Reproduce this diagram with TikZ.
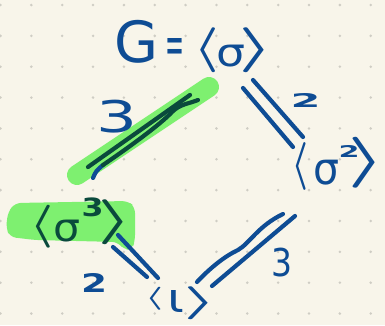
\documentclass[tikz,border=0pt]{standalone}
\usepackage{fontspec}
\setmainfont{DejaVu Sans}
\usetikzlibrary{calc}
\definecolor{paper}{HTML}{F8F5EA}
\definecolor{dotc}{HTML}{CFCDC4}
\definecolor{ink}{HTML}{0E4C94}
\definecolor{hl}{HTML}{7EF070}
\definecolor{inkhl}{HTML}{0A4A3C}
\tikzset{
  pen/.style={draw=ink, line width=4.2pt, line cap=round, line join=round},
  penhl/.style={pen, draw=inkhl},
  lbl/.style={inner sep=0pt, outer sep=0pt, text=ink, anchor=base west},
  marker/.style={draw=hl, line width=20pt, line cap=round}
}
% dx, fontsize, width, height, raise, glyph  (bold)
\newcommand\glb[6]{\rlap{\hspace{#1pt}\raisebox{#5pt}{\resizebox*{#3pt}{#4pt}{\raisebox{\depth}{\fontsize{#2}{#2}\selectfont\bfseries #6}}}}}
% same, regular weight
\newcommand\glr[6]{\rlap{\hspace{#1pt}\raisebox{#5pt}{\resizebox*{#3pt}{#4pt}{\raisebox{\depth}{\fontsize{#2}{#2}\selectfont #6}}}}}
% same, bold math symbol
\newcommand\glm[6]{\rlap{\hspace{#1pt}\raisebox{#5pt}{\resizebox*{#3pt}{#4pt}{\raisebox{\depth}{\fontsize{#2}{#2}\selectfont\boldmath$#6$}}}}}
\begin{document}
\begin{tikzpicture}[x=1pt,y=-1pt]
\fill[paper] (0,0) rectangle (385,325);
\useasboundingbox (0,0) rectangle (385,325);
\foreach \i in {0,...,12} {\foreach \j in {0,...,10} {\fill[dotc] ({0.5+30.85*\i},{5+30.85*\j}) circle (1.4pt);}}
% highlights
\fill[hl, rounded corners=6pt] (15,203) -- (128,201) -- (135,207) -- (135,241) -- (132,249) -- (124,250) -- (118,242) -- (35,240) -- (10,237) -- (6,228) -- (8,212) -- cycle;
\draw[marker] (77,175) -- (209,87);
% nodes
\node[lbl] (G) at (117,63) {\glr{-3}{56}{44}{43}{0}{G}\glr{48}{40}{19}{25}{0}{=}\glm{76.1}{20}{25.7}{45}{-10}{\langle}\glr{99}{44}{29}{22}{-4}{σ}\glm{120.6}{20}{35.7}{45}{-10}{\rangle}\hspace{151pt}};
\node[lbl] (s2) at (293,185) {\glm{-2.5}{20}{17}{48}{-5}{\langle}\glr{20}{44}{26}{25}{0}{σ}\glb{45}{22}{21}{12}{28}{2}\glm{54.2}{20}{38.5}{51}{-3}{\rangle}\hspace{87pt}};
\node[lbl, text=inkhl] (s3) at (33,242) {\glm{-3.6}{20}{24.3}{43}{-6}{\langle}\glr{20}{44}{27}{22}{0}{σ}\glb{48}{26}{22}{19}{25}{3}\glm{63.6}{20}{35.7}{45}{-3}{\rangle}\hspace{94pt}};
\node[lbl] (e) at (147,312) {\glm{-2.8}{20}{18.6}{23}{2}{\langle}\glr{20}{44}{17}{22}{0}{ι}\glm{35.9}{20}{34.3}{33}{-8}{\rangle}\hspace{65pt}};
% edge G - s2
\coordinate (a1) at (243,88); \coordinate (a2) at (293,147);
\coordinate (b1) at (253,80); \coordinate (b2) at (303,137);
\draw[pen] (a1) -- (a2);
\draw[pen] (b1) -- (b2);
\node[lbl] (n1) at (293,107) {\glb{-3}{24}{30}{14}{0}{2}\hspace{24pt}};
% edge G - s3 (highlighted)
\coordinate (c1) at (88,167); \coordinate (c2) at (190,95);
\coordinate (d1) at (93,178); \coordinate (d2) at (198,100);
\draw[penhl] (c1) -- (c2);
\draw[pen] (d1) .. controls (96,171) .. (103,165);
\draw[penhl] (103,165) .. controls (125,150) and (160,125) .. (172,112) .. controls (180,104) and (188,104) .. (d2);
\node[lbl] (n2) at (100,133) {\glr{-4}{40}{41}{33}{0}{3}\hspace{33pt}};
% edge s3 - e
\coordinate (f1) at (113,247); \coordinate (f2) at (147,277);
\coordinate (g1) at (118,235); \coordinate (g2) at (158,278);
\draw[pen] (f1) -- (f2);
\draw[pen] (g1) -- (g2);
\node[lbl] (n3) at (83,292) {\glb{-2.5}{28}{26}{19}{0}{2}\hspace{21pt}};
% edge e - s2
\coordinate (h1) at (197,282); \coordinate (h2) at (283,214);
\coordinate (k1) at (212,286); \coordinate (k2) at (295,216);
\draw[pen] (h1) .. controls (210,268) and (225,256) .. (238,250) .. controls (250,243) and (258,226) .. (h2);
\draw[pen] (k1) -- (k2);
\node[lbl] (n4) at (273,277) {\glr{-2}{34}{21}{29}{0}{3}\hspace{17pt}};
\end{tikzpicture}
\end{document}
